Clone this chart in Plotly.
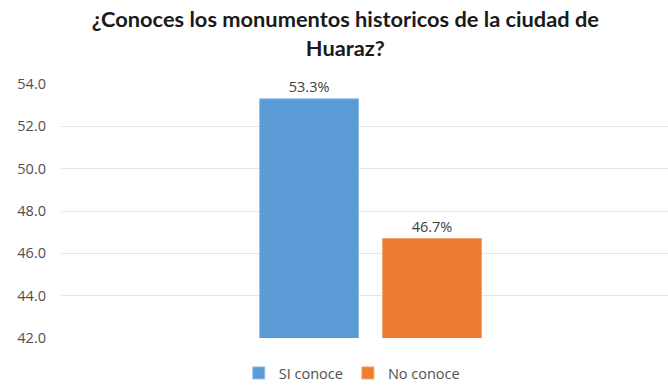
import plotly.graph_objects as go

# Survey result: do respondents know Huaraz's historic monuments?
category = ["Huaraz"]
series_names = ["SI conoce", "No conoce"]
series_values = [53.3, 46.7]
series_colors = ["#5b9bd5", "#ed7d31"]
series_edges = ["#8fbce6", "#f4a36e"]
y_ticks = [42.0, 44.0, 46.0, 48.0, 50.0, 52.0, 54.0]

fig = go.Figure()
for name, val, col, edge in zip(series_names, series_values, series_colors, series_edges):
    fig.add_trace(go.Bar(
        x=category,
        y=[val],
        name=name,
        marker=dict(color=col, line=dict(color=edge, width=1)),
        text=[val],
        texttemplate="%{text:.1f}%",
        textposition="outside",
        textfont=dict(family="Open Sans, Arial", size=14.5, color="#404040"),
        cliponaxis=False,
    ))

fig.update_layout(
    width=668,
    height=389,
    margin=dict(l=61, r=0, t=84, b=46),
    paper_bgcolor="white",
    plot_bgcolor="white",
    barmode="group",
    bargap=0.595,
    bargroupgap=0.195,
    title=dict(
        text="¿Conoces los monumentos historicos de la ciudad de<br>Huaraz?",
        x=0.517,
        xanchor="center",
        xref="container",
        yref="container",
        y=0.93,
        yanchor="top",
        font=dict(family="Lato, Open Sans, Arial", size=21.8, color="#1a1a1a", weight="bold"),
    ),
    xaxis=dict(
        range=[-0.51, 0.49],
        showticklabels=False,
        showgrid=False,
        zeroline=False,
        showline=False,
        fixedrange=True,
    ),
    yaxis=dict(
        range=[42, 54],
        tickvals=y_ticks,
        tickformat=".1f",
        showgrid=True,
        gridcolor="#e3e6ec",
        gridwidth=1,
        zeroline=False,
        showline=False,
        ticklabelstandoff=14,
        tickfont=dict(family="Open Sans, Arial", size=14.5, color="#505050"),
    ),
    legend=dict(
        orientation="h",
        x=0.479,
        xanchor="center",
        y=-0.139,
        yanchor="middle",
        font=dict(family="Open Sans, Arial", size=14.5, color="#505050"),
        itemwidth=30,
    ),
    showlegend=True,
)

fig.write_html("out.html")
